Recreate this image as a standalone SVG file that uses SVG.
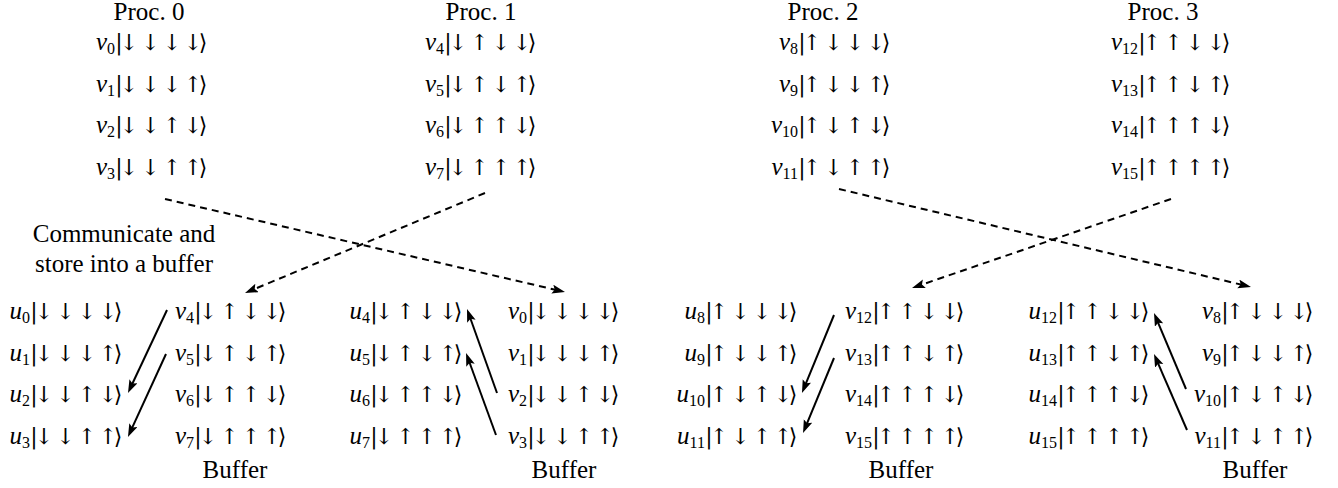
<svg xmlns="http://www.w3.org/2000/svg" width="1338" height="488" viewBox="0 0 1338 488" font-family="'Liberation Serif', serif">
<style>
text{fill:#000;}
.hd{font-size:25px;text-anchor:middle;}
.lab{font-size:25px;font-style:italic;text-anchor:end;}
.sub{font-size:16px;font-style:normal;}
.ket{font-size:22px;text-anchor:middle;}
.dash{fill:none;stroke:#000;stroke-width:2;stroke-dasharray:7 5;}
.solid{fill:none;stroke:#000;stroke-width:2;}
</style>
<defs>
<marker id="ah" markerUnits="userSpaceOnUse" markerWidth="14" markerHeight="10" refX="5" refY="4.5" orient="auto">
<path d="M0,0 L13,4.5 L0,9 L2.5,4.5 Z" fill="#000"/>
</marker>
</defs>
<rect width="1338" height="488" fill="#fff"/>

<g id="proc0">
<text class="hd" x="149" y="20">Proc. 0</text>
<text class="lab" x="115" y="50">v<tspan class="sub" dy="4">0</tspan></text>
<text class="ket" font-family="'DejaVu Serif'" y="50" x="119 129 150.5 172 193 203">|↓↓↓↓⟩</text>
<text class="lab" x="115" y="91.7">v<tspan class="sub" dy="4">1</tspan></text>
<text class="ket" font-family="'DejaVu Serif'" y="91.7" x="119 129 150.5 172 193 203">|↓↓↓↑⟩</text>
<text class="lab" x="115" y="133.3">v<tspan class="sub" dy="4">2</tspan></text>
<text class="ket" font-family="'DejaVu Serif'" y="133.3" x="119 129 150.5 172 193 203">|↓↓↑↓⟩</text>
<text class="lab" x="115" y="175">v<tspan class="sub" dy="4">3</tspan></text>
<text class="ket" font-family="'DejaVu Serif'" y="175" x="119 129 150.5 172 193 203">|↓↓↑↑⟩</text>
</g>

<g id="proc1">
<text class="hd" x="481" y="20">Proc. 1</text>
<text class="lab" x="444" y="50">v<tspan class="sub" dy="4">4</tspan></text>
<text class="ket" font-family="'DejaVu Serif'" y="50" x="448 458 479.5 501 522 532">|↓↑↓↓⟩</text>
<text class="lab" x="444" y="91.7">v<tspan class="sub" dy="4">5</tspan></text>
<text class="ket" font-family="'DejaVu Serif'" y="91.7" x="448 458 479.5 501 522 532">|↓↑↓↑⟩</text>
<text class="lab" x="444" y="133.3">v<tspan class="sub" dy="4">6</tspan></text>
<text class="ket" font-family="'DejaVu Serif'" y="133.3" x="448 458 479.5 501 522 532">|↓↑↑↓⟩</text>
<text class="lab" x="444" y="175">v<tspan class="sub" dy="4">7</tspan></text>
<text class="ket" font-family="'DejaVu Serif'" y="175" x="448 458 479.5 501 522 532">|↓↑↑↑⟩</text>
</g>

<g id="proc2">
<text class="hd" x="823" y="20">Proc. 2</text>
<text class="lab" x="798" y="50">v<tspan class="sub" dy="4">8</tspan></text>
<text class="ket" font-family="'DejaVu Serif'" y="50" x="802 812 833.5 855 876 886">|↑↓↓↓⟩</text>
<text class="lab" x="798" y="91.7">v<tspan class="sub" dy="4">9</tspan></text>
<text class="ket" font-family="'DejaVu Serif'" y="91.7" x="802 812 833.5 855 876 886">|↑↓↓↑⟩</text>
<text class="lab" x="798" y="133.3">v<tspan class="sub" dy="4">10</tspan></text>
<text class="ket" font-family="'DejaVu Serif'" y="133.3" x="802 812 833.5 855 876 886">|↑↓↑↓⟩</text>
<text class="lab" x="798" y="175">v<tspan class="sub" dy="4">11</tspan></text>
<text class="ket" font-family="'DejaVu Serif'" y="175" x="802 812 833.5 855 876 886">|↑↓↑↑⟩</text>
</g>

<g id="proc3">
<text class="hd" x="1163" y="20">Proc. 3</text>
<text class="lab" x="1138" y="50">v<tspan class="sub" dy="4">12</tspan></text>
<text class="ket" font-family="'DejaVu Serif'" y="50" x="1142 1152 1173.5 1195 1216 1226">|↑↑↓↓⟩</text>
<text class="lab" x="1138" y="91.7">v<tspan class="sub" dy="4">13</tspan></text>
<text class="ket" font-family="'DejaVu Serif'" y="91.7" x="1142 1152 1173.5 1195 1216 1226">|↑↑↓↑⟩</text>
<text class="lab" x="1138" y="133.3">v<tspan class="sub" dy="4">14</tspan></text>
<text class="ket" font-family="'DejaVu Serif'" y="133.3" x="1142 1152 1173.5 1195 1216 1226">|↑↑↑↓⟩</text>
<text class="lab" x="1138" y="175">v<tspan class="sub" dy="4">15</tspan></text>
<text class="ket" font-family="'DejaVu Serif'" y="175" x="1142 1152 1173.5 1195 1216 1226">|↑↑↑↑⟩</text>
</g>

<g id="note">
<text class="hd" x="124" y="242">Communicate and</text>
<text class="hd" x="124" y="272">store into a buffer</text>
</g>

<g id="recv0">
<text class="lab" x="30" y="319">u<tspan class="sub" dy="4">0</tspan></text>
<text class="ket" font-family="'DejaVu Serif'" y="319" x="34 44 65.5 87 108 118">|↓↓↓↓⟩</text>
<text class="lab" x="30" y="360.7">u<tspan class="sub" dy="4">1</tspan></text>
<text class="ket" font-family="'DejaVu Serif'" y="360.7" x="34 44 65.5 87 108 118">|↓↓↓↑⟩</text>
<text class="lab" x="30" y="402.3">u<tspan class="sub" dy="4">2</tspan></text>
<text class="ket" font-family="'DejaVu Serif'" y="402.3" x="34 44 65.5 87 108 118">|↓↓↑↓⟩</text>
<text class="lab" x="30" y="444">u<tspan class="sub" dy="4">3</tspan></text>
<text class="ket" font-family="'DejaVu Serif'" y="444" x="34 44 65.5 87 108 118">|↓↓↑↑⟩</text>
</g>

<g id="buffer0">
<text class="lab" x="194" y="319">v<tspan class="sub" dy="4">4</tspan></text>
<text class="ket" font-family="'DejaVu Serif'" y="319" x="198 208 229.5 251 272 282">|↓↑↓↓⟩</text>
<text class="lab" x="194" y="360.7">v<tspan class="sub" dy="4">5</tspan></text>
<text class="ket" font-family="'DejaVu Serif'" y="360.7" x="198 208 229.5 251 272 282">|↓↑↓↑⟩</text>
<text class="lab" x="194" y="402.3">v<tspan class="sub" dy="4">6</tspan></text>
<text class="ket" font-family="'DejaVu Serif'" y="402.3" x="198 208 229.5 251 272 282">|↓↑↑↓⟩</text>
<text class="lab" x="194" y="444">v<tspan class="sub" dy="4">7</tspan></text>
<text class="ket" font-family="'DejaVu Serif'" y="444" x="198 208 229.5 251 272 282">|↓↑↑↑⟩</text>
<text class="hd" x="235" y="478">Buffer</text>
</g>

<g id="recv1">
<text class="lab" x="370" y="319">u<tspan class="sub" dy="4">4</tspan></text>
<text class="ket" font-family="'DejaVu Serif'" y="319" x="374 384 405.5 427 448 458">|↓↑↓↓⟩</text>
<text class="lab" x="370" y="360.7">u<tspan class="sub" dy="4">5</tspan></text>
<text class="ket" font-family="'DejaVu Serif'" y="360.7" x="374 384 405.5 427 448 458">|↓↑↓↑⟩</text>
<text class="lab" x="370" y="402.3">u<tspan class="sub" dy="4">6</tspan></text>
<text class="ket" font-family="'DejaVu Serif'" y="402.3" x="374 384 405.5 427 448 458">|↓↑↑↓⟩</text>
<text class="lab" x="370" y="444">u<tspan class="sub" dy="4">7</tspan></text>
<text class="ket" font-family="'DejaVu Serif'" y="444" x="374 384 405.5 427 448 458">|↓↑↑↑⟩</text>
</g>

<g id="buffer1">
<text class="lab" x="527" y="319">v<tspan class="sub" dy="4">0</tspan></text>
<text class="ket" font-family="'DejaVu Serif'" y="319" x="531 541 562.5 584 605 615">|↓↓↓↓⟩</text>
<text class="lab" x="527" y="360.7">v<tspan class="sub" dy="4">1</tspan></text>
<text class="ket" font-family="'DejaVu Serif'" y="360.7" x="531 541 562.5 584 605 615">|↓↓↓↑⟩</text>
<text class="lab" x="527" y="402.3">v<tspan class="sub" dy="4">2</tspan></text>
<text class="ket" font-family="'DejaVu Serif'" y="402.3" x="531 541 562.5 584 605 615">|↓↓↑↓⟩</text>
<text class="lab" x="527" y="444">v<tspan class="sub" dy="4">3</tspan></text>
<text class="ket" font-family="'DejaVu Serif'" y="444" x="531 541 562.5 584 605 615">|↓↓↑↑⟩</text>
<text class="hd" x="564" y="478">Buffer</text>
</g>

<g id="recv2">
<text class="lab" x="705" y="319">u<tspan class="sub" dy="4">8</tspan></text>
<text class="ket" font-family="'DejaVu Serif'" y="319" x="709 719 740.5 762 783 793">|↑↓↓↓⟩</text>
<text class="lab" x="705" y="360.7">u<tspan class="sub" dy="4">9</tspan></text>
<text class="ket" font-family="'DejaVu Serif'" y="360.7" x="709 719 740.5 762 783 793">|↑↓↓↑⟩</text>
<text class="lab" x="705" y="402.3">u<tspan class="sub" dy="4">10</tspan></text>
<text class="ket" font-family="'DejaVu Serif'" y="402.3" x="709 719 740.5 762 783 793">|↑↓↑↓⟩</text>
<text class="lab" x="705" y="444">u<tspan class="sub" dy="4">11</tspan></text>
<text class="ket" font-family="'DejaVu Serif'" y="444" x="709 719 740.5 762 783 793">|↑↓↑↑⟩</text>
</g>

<g id="buffer2">
<text class="lab" x="872" y="319">v<tspan class="sub" dy="4">12</tspan></text>
<text class="ket" font-family="'DejaVu Serif'" y="319" x="876 886 907.5 929 950 960">|↑↑↓↓⟩</text>
<text class="lab" x="872" y="360.7">v<tspan class="sub" dy="4">13</tspan></text>
<text class="ket" font-family="'DejaVu Serif'" y="360.7" x="876 886 907.5 929 950 960">|↑↑↓↑⟩</text>
<text class="lab" x="872" y="402.3">v<tspan class="sub" dy="4">14</tspan></text>
<text class="ket" font-family="'DejaVu Serif'" y="402.3" x="876 886 907.5 929 950 960">|↑↑↑↓⟩</text>
<text class="lab" x="872" y="444">v<tspan class="sub" dy="4">15</tspan></text>
<text class="ket" font-family="'DejaVu Serif'" y="444" x="876 886 907.5 929 950 960">|↑↑↑↑⟩</text>
<text class="hd" x="901" y="478">Buffer</text>
</g>

<g id="recv3">
<text class="lab" x="1057" y="319">u<tspan class="sub" dy="4">12</tspan></text>
<text class="ket" font-family="'DejaVu Serif'" y="319" x="1061 1071 1092.5 1114 1135 1145">|↑↑↓↓⟩</text>
<text class="lab" x="1057" y="360.7">u<tspan class="sub" dy="4">13</tspan></text>
<text class="ket" font-family="'DejaVu Serif'" y="360.7" x="1061 1071 1092.5 1114 1135 1145">|↑↑↓↑⟩</text>
<text class="lab" x="1057" y="402.3">u<tspan class="sub" dy="4">14</tspan></text>
<text class="ket" font-family="'DejaVu Serif'" y="402.3" x="1061 1071 1092.5 1114 1135 1145">|↑↑↑↓⟩</text>
<text class="lab" x="1057" y="444">u<tspan class="sub" dy="4">15</tspan></text>
<text class="ket" font-family="'DejaVu Serif'" y="444" x="1061 1071 1092.5 1114 1135 1145">|↑↑↑↑⟩</text>
</g>

<g id="buffer3">
<text class="lab" x="1221" y="319">v<tspan class="sub" dy="4">8</tspan></text>
<text class="ket" font-family="'DejaVu Serif'" y="319" x="1225 1235 1256.5 1278 1299 1309">|↑↓↓↓⟩</text>
<text class="lab" x="1221" y="360.7">v<tspan class="sub" dy="4">9</tspan></text>
<text class="ket" font-family="'DejaVu Serif'" y="360.7" x="1225 1235 1256.5 1278 1299 1309">|↑↓↓↑⟩</text>
<text class="lab" x="1221" y="402.3">v<tspan class="sub" dy="4">10</tspan></text>
<text class="ket" font-family="'DejaVu Serif'" y="402.3" x="1225 1235 1256.5 1278 1299 1309">|↑↓↑↓⟩</text>
<text class="lab" x="1221" y="444">v<tspan class="sub" dy="4">11</tspan></text>
<text class="ket" font-family="'DejaVu Serif'" y="444" x="1225 1235 1256.5 1278 1299 1309">|↑↓↑↑⟩</text>
<text class="hd" x="1255" y="478">Buffer</text>
</g>

<g id="connectors">
<path class="dash" d="M165,199 L557.2,290.2" marker-end="url(#ah)"/>
<path class="dash" d="M485,193 L252.4,289.9" marker-end="url(#ah)"/>
<path class="dash" d="M839,189 L1243.2,285.1" marker-end="url(#ah)"/>
<path class="dash" d="M1171,199 L919.6,285.4" marker-end="url(#ah)"/>
<path class="solid" d="M167,310 L131.4,385.8" marker-end="url(#ah)"/>
<path class="solid" d="M166,354 L131.3,429.7" marker-end="url(#ah)"/>
<path class="solid" d="M497,393 L469.7,316.5" marker-end="url(#ah)"/>
<path class="solid" d="M496,435 L468.8,360.5" marker-end="url(#ah)"/>
<path class="solid" d="M834,315 L805,385.6" marker-end="url(#ah)"/>
<path class="solid" d="M834,358 L806.1,425.6" marker-end="url(#ah)"/>
<path class="solid" d="M1186,389 L1157.1,320.4" marker-end="url(#ah)"/>
<path class="solid" d="M1187,430 L1157.2,361.3" marker-end="url(#ah)"/>
</g>
</svg>
